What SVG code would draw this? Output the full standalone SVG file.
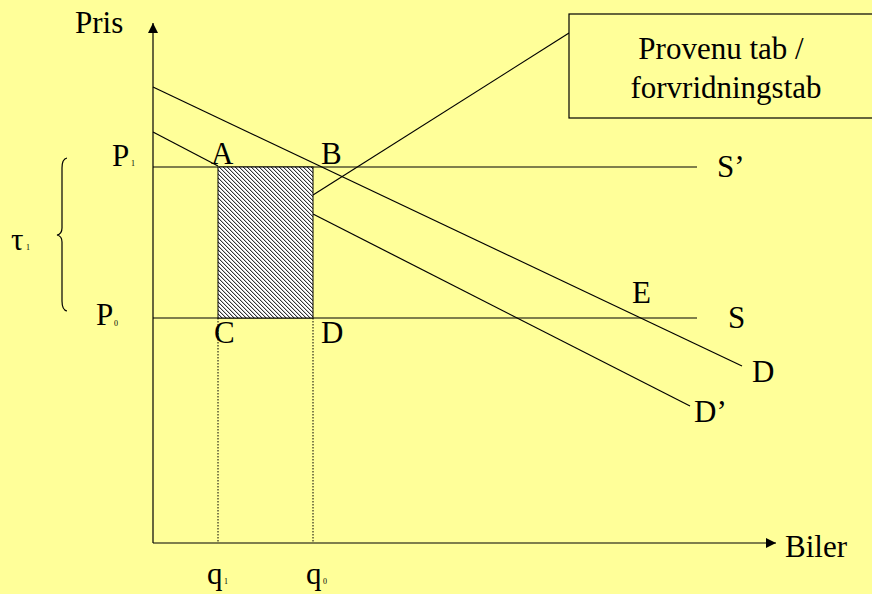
<svg xmlns="http://www.w3.org/2000/svg" width="872" height="594" viewBox="0 0 872 594">
<style>
.t{font-family:"Times New Roman","Liberation Serif","DejaVu Serif",serif;font-size:31px;fill:#000}
.s{font-family:"Times New Roman","Liberation Serif","DejaVu Serif",serif;font-size:8px;fill:#000}
.l{stroke:#000;stroke-width:1.2;fill:none}
.d{stroke:#000;stroke-width:1;stroke-dasharray:1.5 1.5;fill:none}
</style>
<defs>
<pattern id="hatch" width="4" height="4" patternUnits="userSpaceOnUse">
<rect width="4" height="4" fill="#fff"/>
<rect x="0" y="0" width="1" height="1" fill="#333"/>
<rect x="1" y="1" width="1" height="1" fill="#333"/>
<rect x="2" y="2" width="1" height="1" fill="#333"/>
<rect x="3" y="3" width="1" height="1" fill="#333"/>
<rect x="1" y="0" width="1" height="1" fill="#c4c4c4"/>
<rect x="2" y="1" width="1" height="1" fill="#c4c4c4"/>
<rect x="3" y="2" width="1" height="1" fill="#c4c4c4"/>
<rect x="0" y="3" width="1" height="1" fill="#c4c4c4"/>
</pattern>
<marker id="arr" viewBox="0 0 10 10" refX="10" refY="5" markerWidth="10" markerHeight="10" markerUnits="userSpaceOnUse" orient="auto">
<path d="M0,0 L10,5 L0,10 Z" fill="#000"/>
</marker>
</defs>
<rect width="872" height="594" fill="#FFFF99"/>
<g id="connectors">
<line id="y-axis" class="l" x1="153" y1="543" x2="153" y2="23" marker-end="url(#arr)"/>
<line id="x-axis" class="l" x1="153" y1="543" x2="776" y2="543" marker-end="url(#arr)"/>
<line id="S-prime" class="l" x1="153" y1="167" x2="697" y2="167"/>
<line id="S" class="l" x1="153" y1="318" x2="697" y2="318"/>
<line id="demand-D" class="l" x1="153" y1="87" x2="742" y2="366"/>
<line id="demand-Dp-a" class="l" x1="153" y1="132" x2="218" y2="166"/>
<line id="demand-Dp-b" class="l" x1="313" y1="214" x2="690" y2="406"/>
<line id="callout" class="l" x1="313" y1="195" x2="569" y2="33"/>
<line class="d" x1="218" y1="318" x2="218" y2="543"/>
<line class="d" x1="313" y1="318" x2="313" y2="543"/>
<path id="brace" class="l" d="M67,158 Q62,159 62,168 L62,228 Q62,234 57,235 Q62,236 62,242 L62,301 Q62,310 67,311"/>
</g>
<g id="area">
<rect x="218" y="167" width="95" height="151" fill="url(#hatch)" stroke="#000" stroke-width="1"/>
</g>
<g id="callout-box">
<rect x="569" y="14" width="310" height="104" fill="#FFFF99" stroke="#000" stroke-width="1.2"/>
<text class="t" x="721" y="59" text-anchor="middle">Provenu tab /</text>
<text class="t" x="726" y="98" text-anchor="middle">forvridningstab</text>
</g>
<g id="labels">
<text class="t" x="75" y="33">Pris</text>
<text class="t" x="785" y="557">Biler</text>
<text class="t" x="112" y="166">P</text><text class="s" x="131" y="166">1</text>
<text class="t" x="96" y="325">P</text><text class="s" x="114" y="326">0</text>
<text class="t" x="211" y="164">A</text>
<text class="t" x="321" y="164">B</text>
<text class="t" x="214" y="343">C</text>
<text class="t" x="321" y="343">D</text>
<text class="t" x="717" y="177">S’</text>
<text class="t" x="728" y="328">S</text>
<text class="t" x="632" y="303">E</text>
<text class="t" x="752" y="382">D</text>
<text class="t" x="694" y="422">D’</text>
<text class="t" x="11" y="250">τ</text><text class="s" x="26" y="250">1</text>
<text class="t" x="207" y="584">q</text><text class="s" x="224" y="584">1</text>
<text class="t" x="306" y="584">q</text><text class="s" x="323" y="584">0</text>
</g>
</svg>
